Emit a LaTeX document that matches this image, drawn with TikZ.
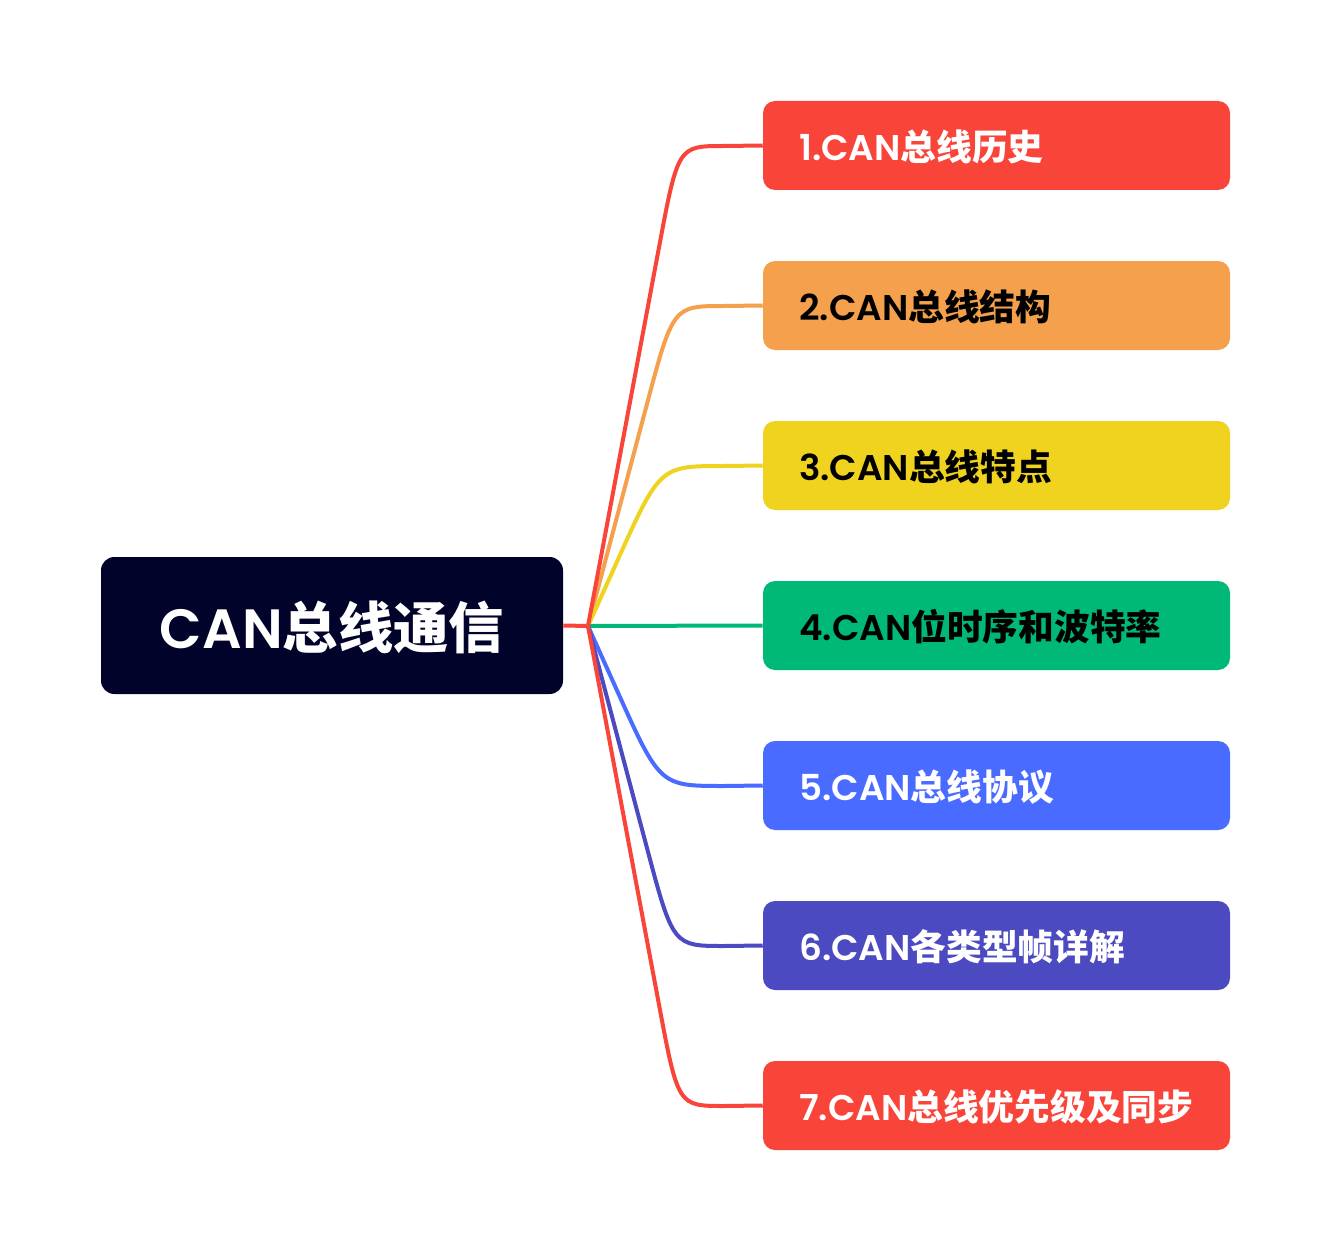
\documentclass[tikz,border=0pt]{standalone}
\usepackage{fontspec}
\usetikzlibrary{calc}
\newfontfamily\latf{Poppins SemiBold}
\newfontfamily\cjkf{Noto Sans CJK SC}
\definecolor{cred}{HTML}{F9443A}
\definecolor{corange}{HTML}{F4A04C}
\definecolor{cyellow}{HTML}{F0D31F}
\definecolor{cgreen}{HTML}{00B977}
\definecolor{cblue}{HTML}{4A6BFF}
\definecolor{cindigo}{HTML}{4B4AC0}
\definecolor{croot}{HTML}{01032B}
\newcommand\mylbl[2]{{\latf #1}{\cjkf\bfseries #2}}
\begin{document}
\begin{tikzpicture}[x=0.75pt,y=-0.75pt,
  topic/.style={rounded corners=9pt,minimum width=350.25pt,minimum height=66.75pt,inner sep=0pt},
  rootbox/.style={fill=croot,rounded corners=10pt,minimum width=346.5pt,minimum height=102.75pt,inner sep=0pt},
  lbl/.style={anchor=west,inner sep=0pt,font=\fontsize{26.8pt}{32pt}\selectfont},
  conn/.style={line width=3pt}]
\useasboundingbox (0,0) rectangle (1332,1252);
\node[rootbox] (root) at (332,625.5) {};
\node[text=white,font=\fontsize{41.5pt}{48pt}\selectfont] (roott) at (332,627) {\mylbl{CAN}{总线通信}};
\coordinate (J) at (588,626);
% boxes
\node[topic,fill=cred] (b1) at (996.5,145.5) {};
\node[topic,fill=corange] (b2) at (996.5,305.5) {};
\node[topic,fill=cyellow] (b3) at (996.5,465.5) {};
\node[topic,fill=cgreen] (b4) at (996.5,625.5) {};
\node[topic,fill=cblue] (b5) at (996.5,785.5) {};
\node[topic,fill=cindigo] (b6) at (996.5,945.5) {};
\node[topic,fill=cred] (b7) at (996.5,1105.5) {};
% corner points and curve ends
\coordinate (k1) at (678,146);  \coordinate (e1) at (724,146);
\coordinate (k2) at (673,306);  \coordinate (e2) at (724,306);
\coordinate (k3) at (660,466);  \coordinate (e3) at (724,466);
\coordinate (k5) at (660,786);  \coordinate (e5) at (724,786);
\coordinate (k6) at (673,946);  \coordinate (e6) at (724,946);
\coordinate (k7) at (678,1106); \coordinate (e7) at (724,1106);
% connectors
\draw[conn,cred] (root.east) -- (J);
\draw[conn,corange] (J) -- ($(k2)!78pt!(J)$) .. controls (k2) .. (e2) -- (b2.west);
\draw[conn,cyellow] (J) -- ($(k3)!78pt!(J)$) .. controls (k3) .. (e3) -- (b3.west);
\draw[conn,cgreen] (J) -- (b4.west);
\draw[conn,cblue] (J) -- ($(k5)!78pt!(J)$) .. controls (k5) .. (e5) -- (b5.west);
\draw[conn,cindigo] (J) -- ($(k6)!78pt!(J)$) .. controls (k6) .. (e6) -- (b6.west);
\draw[conn,cred] (J) -- ($(k1)!78pt!(J)$) .. controls (k1) .. (e1) -- (b1.west);
\draw[conn,cred] (J) -- ($(k7)!78pt!(J)$) .. controls (k7) .. (e7) -- (b7.west);
% labels
\node[lbl,text=white] (t1) at (799,147) {\mylbl{1.CAN}{总线历史}};
\node[lbl,text=black] (t2) at (799,307) {\mylbl{2.CAN}{总线结构}};
\node[lbl,text=black] (t3) at (799,467) {\mylbl{3.CAN}{总线特点}};
\node[lbl,text=black] (t4) at (799,627) {\mylbl{4.CAN}{位时序和波特率}};
\node[lbl,text=white] (t5) at (799,787) {\mylbl{5.CAN}{总线协议}};
\node[lbl,text=white] (t6) at (799,947) {\mylbl{6.CAN}{各类型帧详解}};
\node[lbl,text=white] (t7) at (799,1107) {\mylbl{7.CAN}{总线优先级及同步}};
\end{tikzpicture}
\end{document}
